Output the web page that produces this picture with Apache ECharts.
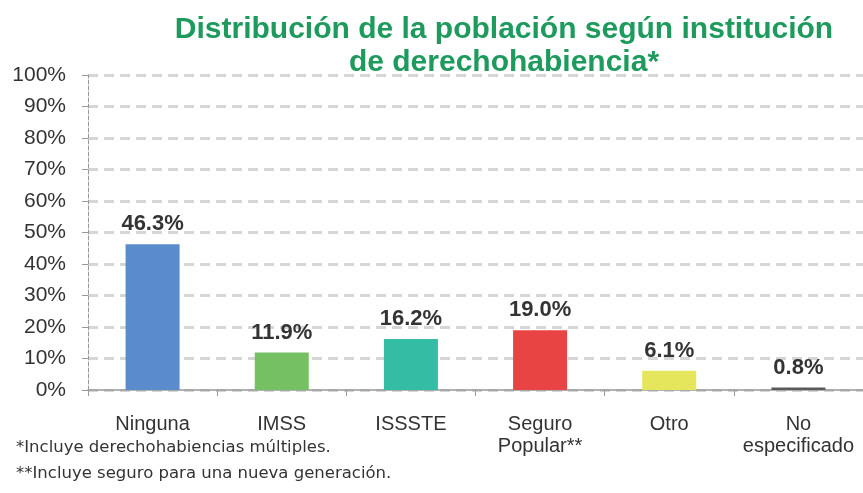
<!DOCTYPE html>
<html>
<head>
<meta charset="utf-8">
<script src="https://cdn.jsdelivr.net/npm/echarts@6/dist/echarts.min.js"></script>
<style>
html,body{margin:0;padding:0;background:#fff;}
#main{width:863px;height:493px;}
</style>
</head>
<body>
<div id="main"></div>
<script>
var categorias = ['Ninguna', 'IMSS', 'ISSSTE', 'Seguro\nPopular**', 'Otro', 'No\nespecificado'];
var valores = [46.3, 11.9, 16.2, 19.0, 6.1, 0.8];
var colores = ['#5a8ccb', '#74c062', '#35bca5', '#e94444', '#e5e65c', '#5a5a5a'];
var ticksY = [0, 10, 20, 30, 40, 50, 60, 70, 80, 90, 100];

var fuente = '"Liberation Sans", Arial, sans-serif';
var myChart = echarts.init(document.getElementById('main'));
var option = {
  animation: false,
  title: {
    text: 'Distribución de la población según institución\nde derechohabiencia*',
    left: 499,
    top: 8,
    textAlign: 'center',
    textStyle: {
      color: '#1d9a5c',
      fontFamily: fuente,
      fontSize: 30,
      fontWeight: 'bold',
      lineHeight: 33
    }
  },
  graphic: [
    {
      type: 'text', left: 16, top: 439,
      style: { text: '*Incluye derechohabiencias múltiples.', fill: '#333', font: '16.5px "DejaVu Sans", sans-serif' }
    },
    {
      type: 'text', left: 16, top: 465,
      style: { text: '**Incluye seguro para una nueva generación.', fill: '#333', font: '16.5px "DejaVu Sans", sans-serif' }
    }
  ],
  grid: {
    left: 88,
    right: -4,
    top: 75,
    bottom: 103
  },
  xAxis: {
    type: 'category',
    data: categorias,
    axisLine: { lineStyle: { color: '#999', width: 1.5 } },
    axisTick: { show: true, length: 6, lineStyle: { color: '#999' } },
    axisLabel: {
      interval: 0,
      color: '#333',
      fontFamily: fuente,
      fontSize: 20,
      lineHeight: 22,
      margin: 23,
      verticalAlign: 'top'
    }
  },
  yAxis: {
    type: 'value',
    min: 0,
    max: 100,
    interval: 10,
    axisLine: { show: true, lineStyle: { color: '#999', type: 'dashed', width: 1 } },
    axisTick: { show: true, length: 6, lineStyle: { color: '#999' } },
    axisLabel: {
      color: '#333',
      fontFamily: fuente,
      fontSize: 21,
      margin: 22,
      formatter: function (v) { return ticksY.indexOf(v) >= 0 ? v + '%' : ''; }
    },
    splitLine: { lineStyle: { color: '#d6d6d6', type: [10, 6], width: 3 } }
  },
  series: [
    {
      type: 'bar',
      barWidth: 54,
      data: valores.map(function (v, i) {
        return { value: v, itemStyle: { color: colores[i] } };
      }),
      label: {
        show: true,
        position: 'top',
        distance: 9,
        color: '#333',
        fontFamily: fuente,
        fontSize: 22,
        fontWeight: 'bold',
        formatter: function (p) { return p.value.toFixed(1) + '%'; }
      }
    }
  ]
};
myChart.setOption(option);
</script>
</body>
</html>
